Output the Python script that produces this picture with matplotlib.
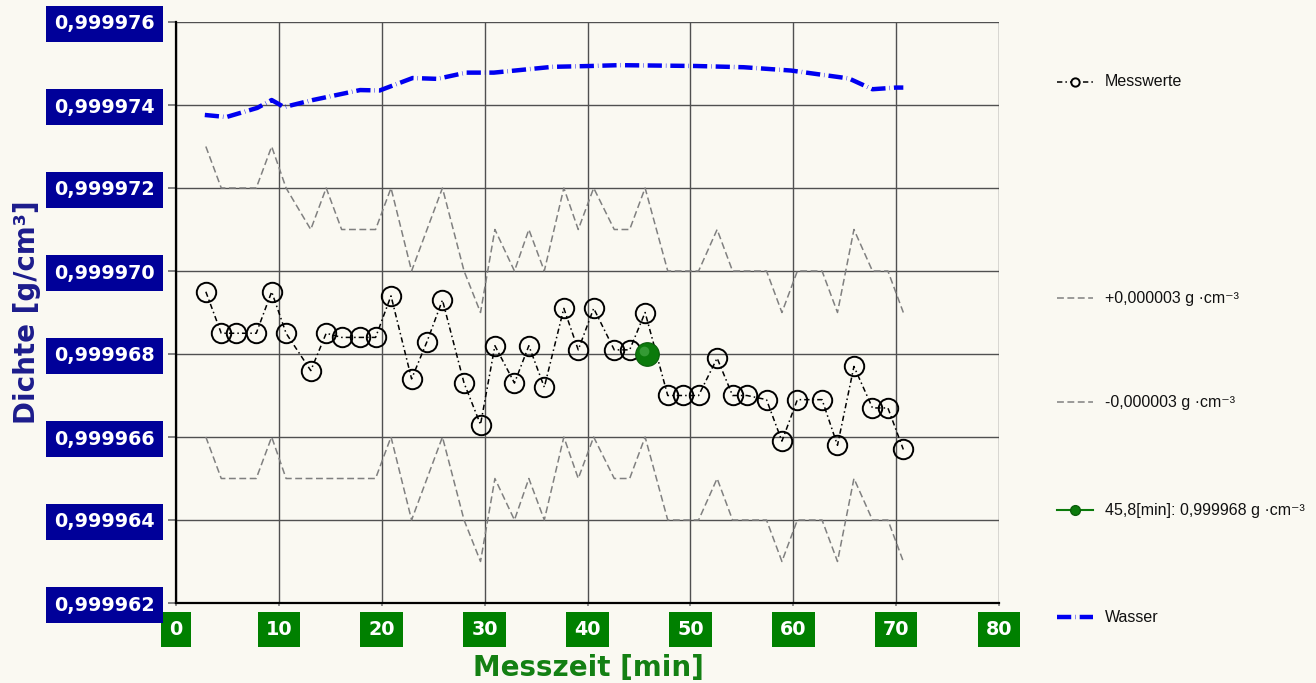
"""
Dichte-Messung: Messwerte mit Toleranzband (+/- 0,000003 g/cm3) und Wasser-Referenz.
"""
import matplotlib
matplotlib.use("Agg")
import matplotlib.pyplot as plt
from matplotlib.lines import Line2D
from matplotlib.ticker import FuncFormatter, MultipleLocator
import matplotlib.transforms as mtransforms

# ---- data (Dichte als Abweichung von 0,9999 in 1e-6 g/cm3) ----
BASE = 0.9999
SCALE = 1e-6

zeit = [2.9, 4.4, 5.8, 7.8, 9.3, 10.7, 13.1, 14.6, 16.1, 17.9, 19.4, 20.9,
        22.9, 24.4, 25.9, 28.0, 29.6, 31.0, 32.9, 34.3, 35.8, 37.7, 39.1,
        40.6, 42.6, 44.1, 45.6, 47.8, 49.3, 50.8, 52.6, 54.1, 55.5, 57.4,
        58.9, 60.4, 62.8, 64.3, 65.9, 67.7, 69.2, 70.7]

messwerte = [69.5, 68.5, 68.5, 68.5, 69.5, 68.5, 67.6, 68.5, 68.4, 68.4, 68.4,
             69.4, 67.4, 68.3, 69.3, 67.3, 66.3, 68.2, 67.3, 68.2, 67.2, 69.1,
             68.1, 69.1, 68.1, 68.1, 69.0, 67.0, 67.0, 67.0, 67.9, 67.0, 67.0,
             66.9, 65.9, 66.9, 66.9, 65.8, 67.7, 66.7, 66.7, 65.7]

band_oben = [73, 72, 72, 72, 73, 72, 71, 72, 71, 71, 71, 72, 70, 71, 72, 70,
             69, 71, 70, 71, 70, 72, 71, 72, 71, 71, 72, 70, 70, 70, 71, 70,
             70, 70, 69, 70, 70, 69, 71, 70, 70, 69]

band_unten = [66, 65, 65, 65, 66, 65, 65, 65, 65, 65, 65, 66, 64, 65, 66, 64,
              63, 65, 64, 65, 64, 66, 65, 66, 65, 65, 66, 64, 64, 64, 65, 64,
              64, 64, 63, 64, 64, 63, 65, 64, 64, 63]

wasser_zeit = [2.8, 4.9, 7.9, 9.3, 10.5, 13.3, 17.9, 19.8, 23.0, 25.4, 28.2,
               30.9, 36.6, 40.3, 43.1, 50.5, 55.2, 59.8, 65.4, 67.7, 70.0, 70.7]
wasser = [73.76, 73.71, 73.93, 74.12, 73.95, 74.12, 74.36, 74.35, 74.65, 74.63,
          74.78, 74.78, 74.92, 74.94, 74.96, 74.94, 74.91, 74.83, 74.64, 74.38,
          74.42, 74.42]

cursor_zeit = 45.8
cursor_wert = 0.999968

labels = ["Messwerte", "+0,000003 g \u00b7cm\u207b\u00b3", "-0,000003 g \u00b7cm\u207b\u00b3",
          "45,8[min]: 0,999968 g \u00b7cm\u207b\u00b3", "Wasser"]


def dichte(vals):
    return [BASE + v * SCALE for v in vals]


BG = "#FAF9F2"
BLUE_BOX = "#000099"
GREEN_BOX = "#008000"

fig = plt.figure(figsize=(13.16, 6.83), dpi=100, facecolor=BG)
ax = fig.add_axes([176 / 1316, 80 / 683, 823 / 1316, 581 / 683], facecolor=BG)

ax.plot(zeit, dichte(band_oben), color="#808080", lw=1.1, dashes=(4.5, 2.3), zorder=3)
ax.plot(zeit, dichte(band_unten), color="#808080", lw=1.1, dashes=(4.5, 2.3), zorder=3)
ax.plot(zeit, dichte(messwerte), color="black", lw=1.1, dashes=(3.5, 2, 1, 2),
        marker="o", ms=14, mfc="none", mec="black", mew=1.4, zorder=4)
ax.plot(wasser_zeit, dichte(wasser), color="#0000F0", lw=3.2,
        dashes=(3.2, 0.9, 0.1, 0.9), zorder=4)

# green cursor ball with a little highlight
ax.plot([cursor_zeit], [cursor_wert], "o", ms=17, color="#0B7A0B", mec="#0A5E0A",
        mew=0.8, zorder=6)
hl = mtransforms.offset_copy(ax.transData, fig=fig, x=-3, y=3, units="dots")
ax.plot([cursor_zeit], [cursor_wert], "o", ms=7, color="#3FA33F", mec="none",
        alpha=0.8, transform=hl, zorder=7)

ax.set_xlim(0, 80)
ax.set_ylim(0.999962, 0.999976)
ax.xaxis.set_major_locator(MultipleLocator(10))
ax.yaxis.set_major_locator(MultipleLocator(0.000002))
ax.xaxis.set_major_formatter(FuncFormatter(lambda v, p: f"{v:.0f}"))
ax.yaxis.set_major_formatter(FuncFormatter(lambda v, p: f"{v:.6f}".replace(".", ",")))

ax.grid(True, color="#505050", lw=1.0, zorder=1)
for side in ("top", "right"):
    ax.spines[side].set_visible(False)
for side in ("left", "bottom"):
    ax.spines[side].set_color("black")
    ax.spines[side].set_linewidth(1.6)
    ax.spines[side].set_zorder(5)

ax.tick_params(axis="y", direction="out", length=6, width=1.4, color="#808080", pad=9)
ax.tick_params(axis="x", direction="out", length=2, width=1.2, color="#808080", pad=10)

for lab in ax.get_yticklabels():
    lab.set_fontsize(13.8)
    lab.set_fontweight("bold")
    lab.set_color("white")
    lab.set_bbox(dict(facecolor=BLUE_BOX, edgecolor="none", boxstyle="square,pad=0.42"))
for lab in ax.get_xticklabels():
    lab.set_fontsize(13.8)
    lab.set_fontweight("bold")
    lab.set_color("white")
    lab.set_bbox(dict(facecolor=GREEN_BOX, edgecolor="none", boxstyle="square,pad=0.42"))

fig.text(27 / 1316, 1 - 312 / 683, "Dichte [g/cm\u00b3]", rotation=90, ha="center",
         va="center", fontsize=20, fontweight="bold", color="#1C1C8C")
fig.text(588 / 1316, 1 - 668 / 683, "Messzeit [min]", ha="center", va="center",
         fontsize=20, fontweight="bold", color="#138013")

# ---- legend, drawn entry by entry (uneven spacing as in the original) ----
W, H = 1316, 683
leg_font = dict(fontsize=11.5, family=["Liberation Sans", "DejaVu Sans"], color="#111111")


def legend_entry(y_px, text, **kw):
    y = 1 - y_px / H
    line = Line2D([1057 / W, 1093 / W], [y, y], transform=fig.transFigure, **kw)
    fig.add_artist(line)
    fig.text(1105 / W, y, text, va="center", ha="left", **leg_font)


def legend_marker(y_px, **kw):
    fig.add_artist(Line2D([1075 / W], [1 - y_px / H], transform=fig.transFigure,
                          ls="none", **kw))


legend_entry(82, labels[0], color="black", lw=1.1, dashes=(3.5, 2, 1, 2))
legend_marker(82, marker="o", ms=6, mfc=BG, mec="black", mew=1.4)
legend_entry(298, labels[1], color="#808080", lw=1.1, dashes=(4.5, 2.3))
legend_entry(402, labels[2], color="#808080", lw=1.1, dashes=(4.5, 2.3))
legend_entry(510, labels[3], color="#0B7A0B", lw=1.5)
legend_marker(510, marker="o", ms=7, color="#0B7A0B", mec="#0A5E0A")
legend_entry(617, labels[4], color="#0000F0", lw=3.2, dashes=(3.2, 0.9, 0.1, 0.9))

fig.savefig("out.png", dpi=100, facecolor=BG)
